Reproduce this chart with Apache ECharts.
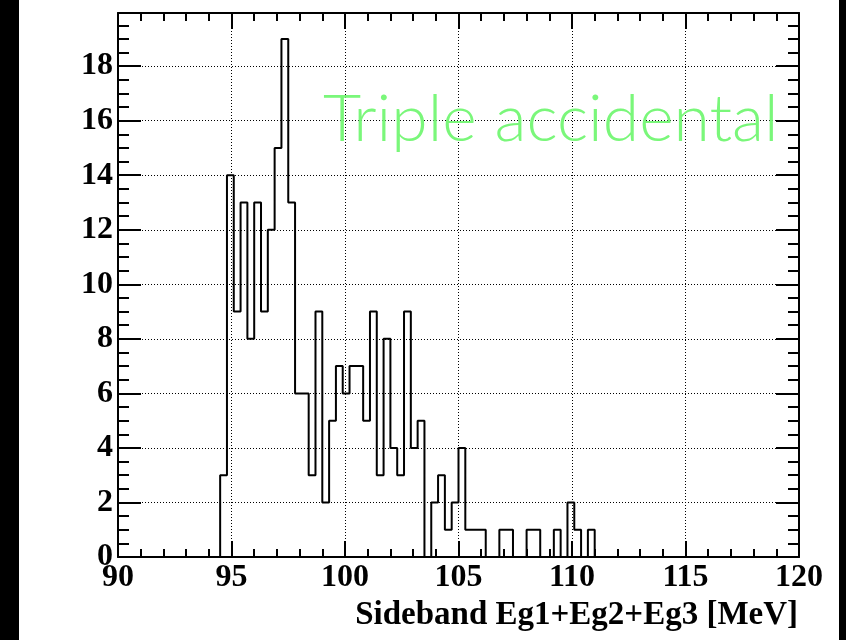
<!DOCTYPE html>
<html>
<head>
<meta charset="utf-8">
<script src="https://cdn.jsdelivr.net/npm/echarts@6/dist/echarts.min.js"></script>
<style>
  html, body { margin: 0; padding: 0; background: #000; }
  #chart { width: 846px; height: 640px; }
</style>
</head>
<body>
<div id="chart"></div>
<script>
// Histogram of the sideband energy sum, 0.3 MeV bins starting at 94.5 MeV
const binWidth = 0.3;
const firstEdge = 94.5;
const counts = [
  3, 14, 9, 13, 8, 13, 9, 12, 15, 19,
  13, 6, 6, 3, 9, 2, 5, 7, 6, 7,
  7, 5, 9, 3, 8, 4, 3, 9, 4, 5,
  0, 2, 3, 1, 2, 4, 1, 1, 1, 0,
  0, 1, 1, 0, 0, 1, 1, 0, 0, 1,
  0, 2, 1, 0, 1
];
const xRange = [90, 120];
const yRange = [0, 19.95];
const xTitle = 'Sideband Eg1+Eg2+Eg3 [MeV]';
const label = 'Triple accidental';

// Step outline: one point per left bin edge, closed back to zero at both ends
const outline = [[xRange[0], 0]];
counts.forEach((c, i) => outline.push([firstEdge + i * binWidth, c]));
outline.push([firstEdge + counts.length * binWidth, 0]);
outline.push([xRange[1], 0]);

const serif = '"Liberation Serif", "Times New Roman", serif';
const ink = '#000';
const lw = 2;
const gridDots = { color: ink, width: 1, type: [1, 2] };

function xAxisDef(pos, withLabels) {
  return {
    type: 'value', position: pos, min: xRange[0], max: xRange[1], interval: 5,
    axisLine: { show: true, onZero: false, lineStyle: { color: ink, width: lw } },
    axisTick: { show: true, inside: true, length: 16, lineStyle: { color: ink, width: lw } },
    minorTick: { show: true, splitNumber: 5, length: 8, lineStyle: { color: ink, width: lw } },
    axisLabel: withLabels ? { show: true, margin: 5, color: ink, fontFamily: serif, fontWeight: 'bold', fontSize: 32 } : { show: false },
    splitLine: withLabels ? { show: true, lineStyle: gridDots } : { show: false }
  };
}

function yAxisDef(pos, step, tickLen, main) {
  return {
    type: 'value', position: pos, min: yRange[0], max: yRange[1], interval: step,
    axisLine: { show: main, onZero: false, lineStyle: { color: ink, width: lw } },
    axisTick: { show: true, inside: true, length: tickLen, lineStyle: { color: ink, width: lw } },
    axisLabel: (main && pos === 'left') ? { show: true, margin: 5, showMaxLabel: false, color: ink, fontFamily: serif, fontWeight: 'bold', fontSize: 32 } : { show: false },
    splitLine: (main && pos === 'left') ? { show: true, lineStyle: gridDots } : { show: false }
  };
}

const chart = echarts.init(document.getElementById('chart'), null, { renderer: 'canvas' });
chart.setOption({
  animation: false,
  backgroundColor: '#000',
  graphic: [
    { type: 'rect', z: -10, silent: true, shape: { x: 19, y: 0, width: 820, height: 640 }, style: { fill: '#fff' } },
    { type: 'text', z: 100, silent: true, x: 323, y: 87, style: { text: label, fill: '#7af77a', font: '300 66px Lato, "Open Sans", sans-serif', textVerticalAlign: 'top' } }
  ],
  title: {
    text: xTitle, right: 48, top: 599, padding: 0,
    textStyle: { color: ink, fontFamily: serif, fontWeight: 'bold', fontSize: 33 }
  },
  grid: { left: 118, right: 47, top: 13, bottom: 83, containLabel: false },
  xAxis: [xAxisDef('bottom', true), xAxisDef('top', false)],
  yAxis: [
    yAxisDef('left', 2, 23, true),
    yAxisDef('left', 0.5, 11, false),
    yAxisDef('right', 2, 23, true),
    yAxisDef('right', 0.5, 11, false)
  ],
  series: [{
    type: 'line', step: 'end', xAxisIndex: 0, yAxisIndex: 0,
    data: outline, showSymbol: false, symbol: 'none',
    lineStyle: { color: ink, width: lw }, z: 5
  }]
});
</script>
</body>
</html>
